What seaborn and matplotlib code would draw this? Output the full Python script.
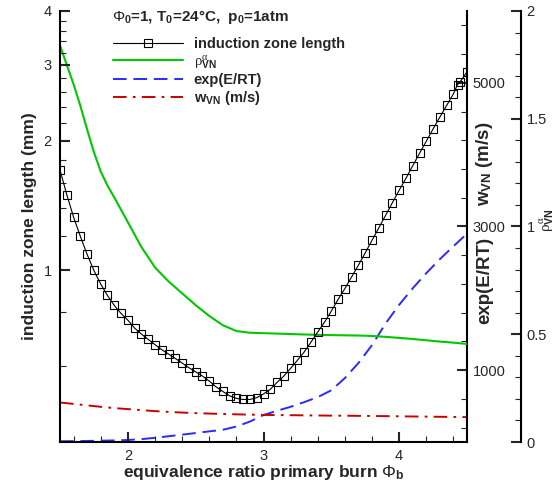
import numpy as np
import pandas as pd
import seaborn as sns
import matplotlib
matplotlib.use("Agg")
import matplotlib.pyplot as plt
from matplotlib.ticker import FixedLocator, FixedFormatter, NullFormatter

# ---------------- data ----------------
phi_ind = [1.50, 1.55, 1.60, 1.65, 1.70, 1.75, 1.80, 1.85, 1.90, 1.95,
           2.00, 2.05, 2.10, 2.15, 2.20, 2.25, 2.30, 2.35, 2.40, 2.45,
           2.50, 2.55, 2.60, 2.65, 2.70, 2.75, 2.80, 2.85, 2.90, 2.95,
           3.00, 3.05, 3.10, 3.15, 3.20, 3.25, 3.30, 3.35, 3.40, 3.45,
           3.50, 3.55, 3.60, 3.65, 3.70, 3.75, 3.80, 3.85, 3.90, 3.95,
           4.00, 4.05, 4.10, 4.15, 4.20, 4.25, 4.30, 4.35, 4.40, 4.43,
           4.45, 4.50]
induction_len = [1.71, 1.50, 1.33, 1.20, 1.09, 1.00, 0.93, 0.875, 0.83, 0.795,
                 0.767, 0.735, 0.712, 0.692, 0.673, 0.655, 0.640, 0.625, 0.610, 0.595,
                 0.582, 0.569, 0.554, 0.537, 0.524, 0.512, 0.505, 0.502, 0.502, 0.507,
                 0.517, 0.530, 0.550, 0.569, 0.593, 0.619, 0.647, 0.682, 0.720, 0.759,
                 0.805, 0.857, 0.908, 0.967, 1.029, 1.099, 1.175, 1.256, 1.343, 1.436,
                 1.535, 1.637, 1.750, 1.870, 1.995, 2.130, 2.270, 2.415, 2.570, 2.700,
                 2.740, 2.890]

phi = [1.5, 1.55, 1.6, 1.65, 1.7, 1.75, 1.8, 1.85, 1.9, 2.0, 2.1, 2.2, 2.3, 2.4,
       2.5, 2.6, 2.7, 2.8, 2.9, 3.0, 3.1, 3.2, 3.3, 3.4, 3.5, 3.6, 3.7, 3.8, 3.9,
       4.0, 4.1, 4.2, 4.3, 4.4, 4.5]
rho_alpha = [1.84, 1.75, 1.66, 1.56, 1.45, 1.345, 1.255, 1.19, 1.135, 1.02, 0.905,
             0.81, 0.745, 0.69, 0.635, 0.585, 0.542, 0.515, 0.507, 0.505, 0.503,
             0.501, 0.499, 0.497, 0.496, 0.495, 0.494, 0.492, 0.488, 0.483, 0.478,
             0.472, 0.466, 0.461, 0.455]
exp_ERT = [10, 11, 12, 13, 15, 16, 18, 20, 22, 28, 40, 58, 80, 102, 125, 148,
           170, 215, 285, 375, 435, 490, 555, 625, 720, 890, 1100, 1350, 1650,
           1910, 2140, 2350, 2545, 2725, 2900]
w_vn = [550, 540, 530, 520, 510, 500, 490, 481, 472, 458, 444, 430, 419, 410, 402,
        396, 390, 385, 381, 377, 375, 373, 371, 369, 367, 366, 364, 362, 360, 358,
        355, 353, 351, 349, 346]

left_major = [1, 2, 3, 4]
left_minor = [0.6, 0.8, 1.2, 1.4, 1.6, 1.8, 2.2, 2.4, 2.6, 2.8, 3.2, 3.4, 3.6, 3.8]
w_major = [1000, 3000, 5000]
w_minor = [200, 600, 1400, 1800, 2200, 2600, 3400, 3800, 4200, 4600, 5400, 5800]
rho_major = [0, 0.5, 1, 1.5, 2]
rho_major_labels = ["0", "0.5", "1", "1.5", "2"]
x_major = [2, 3, 4]

df_ind = pd.DataFrame({"phi": phi_ind, "L": induction_len})
df = pd.DataFrame({"phi": phi, "rho": rho_alpha, "exp": exp_ERT, "w": w_vn})

# ---------------- style ----------------
sns.set_style("ticks")
plt.rcParams["font.family"] = ["Liberation Sans", "DejaVu Sans"]
plt.rcParams["mathtext.fontset"] = "custom"
plt.rcParams["mathtext.rm"] = "Liberation Sans"
plt.rcParams["mathtext.bf"] = "Liberation Sans:bold"
plt.rcParams["mathtext.it"] = "Liberation Serif"
plt.rcParams["mathtext.sf"] = "Liberation Sans"

fig = plt.figure(figsize=(5.59, 4.82), dpi=100)
ax = fig.add_axes([60 / 559, 40 / 482, 407 / 559, 431 / 482])
ax2 = ax.twinx()
ax3 = ax.twinx()

GREEN = "#00c800"
BLUE = "#2a2aff"
RED = "#c80000"

sns.lineplot(data=df, x="phi", y="rho", ax=ax3, color=GREEN, linewidth=1.5,
             estimator=None, sort=False)
sns.lineplot(data=df, x="phi", y="exp", ax=ax2, color=BLUE, linewidth=1.4,
             linestyle=(0, (7, 3.5)), estimator=None, sort=False)
sns.lineplot(data=df, x="phi", y="w", ax=ax2, color=RED, linewidth=1.4,
             linestyle=(0, (7, 3.2, 1.4, 3.2)), estimator=None, sort=False)
sns.lineplot(data=df_ind, x="phi", y="L", ax=ax, color="black", linewidth=0.8,
             marker="s", markersize=6.3, markerfacecolor="none",
             markeredgecolor="black", markeredgewidth=0.8,
             estimator=None, sort=False)

h_ind = ax.lines[-1]
h_rho = ax3.lines[-1]
h_exp = ax2.lines[0]
h_w = ax2.lines[1]

ax.set_zorder(3)
ax.patch.set_visible(False)

# ---------------- axes ----------------
ax.set_yscale("log")
ax.set_xlim(1.5, 4.5)
ax.set_ylim(0.4, 4)
ax2.set_ylim(0, 6000)
ax3.set_ylim(0, 2)

ax.yaxis.set_major_locator(FixedLocator(left_major))
ax.yaxis.set_major_formatter(FixedFormatter([str(v) for v in left_major]))
ax.yaxis.set_minor_locator(FixedLocator(left_minor))
ax.yaxis.set_minor_formatter(NullFormatter())
ax.xaxis.set_major_locator(FixedLocator(x_major))
ax.xaxis.set_major_formatter(FixedFormatter([str(v) for v in x_major]))
ax.xaxis.set_minor_locator(FixedLocator(list(np.arange(1.6, 4.5, 0.2))))

ax2.yaxis.set_major_locator(FixedLocator(w_major))
ax2.yaxis.set_major_formatter(FixedFormatter([str(v) for v in w_major]))
ax2.yaxis.set_minor_locator(FixedLocator(w_minor))

ax3.yaxis.set_major_locator(FixedLocator(rho_major))
ax3.yaxis.set_major_formatter(FixedFormatter(rho_major_labels))
ax3.yaxis.set_minor_locator(FixedLocator(list(np.arange(0.1, 2.0, 0.1))))
ax3.spines["right"].set_position(("axes", 461 / 407))

for a in (ax, ax2, ax3):
    for s in a.spines.values():
        s.set_linewidth(1.5)
        s.set_color("black")
    a.spines["top"].set_visible(False)
    a.set_xlabel("")
    a.set_ylabel("")
ax.spines["right"].set_visible(False)
for a in (ax2, ax3):
    a.spines["left"].set_visible(False)
    a.spines["bottom"].set_visible(False)

ax.tick_params(axis="both", which="major", direction="in", length=7, width=1.5,
               labelsize=10.5, pad=5, top=False, right=False)
ax.tick_params(axis="both", which="minor", direction="in", length=4, width=0.8,
               top=False, right=False)
ax.tick_params(axis="y", which="major", pad=6)
for a in (ax2, ax3):
    a.tick_params(axis="y", which="major", direction="in", length=7, width=1.5,
                  labelsize=10.5, pad=4)
    a.tick_params(axis="y", which="minor", direction="in", length=4, width=0.8)

# labels
ax.set_xlabel(r"equivalence ratio primary burn $\mathit{\Phi}_\mathbf{b}$",
              fontsize=12.5, fontweight="bold", labelpad=0)
ax.set_ylabel("induction zone length (mm)", fontsize=12.5, fontweight="bold")
ax.yaxis.set_label_coords(-0.057, 0.5)

ax2.text(1.043, 0.375, "exp(E/RT)", transform=ax.transAxes, rotation=90,
         fontsize=13.5, fontweight="bold", ha="center", va="center")
ax2.text(1.043, 0.645, r"w$_\mathbf{VN}$ (m/s)", transform=ax.transAxes, rotation=90,
         fontsize=13.5, fontweight="bold", ha="center", va="center")

ax3.set_ylabel(r"$\rho_\mathbf{VN}^{\alpha}$", fontsize=11)
ax3.yaxis.set_label_coords(1.178, 0.515)

ax.text(0.128, 0.986, r"$\mathit{\Phi}_\mathbf{0}$=1, T$_\mathbf{0}$=24°C,  p$_\mathbf{0}$=1atm",
        transform=ax.transAxes, fontsize=11, fontweight="bold", va="center", ha="left")

leg = ax.legend([h_ind, h_rho, h_exp, h_w],
                ["induction zone length", r"$\rho_\mathbf{VN}^{\alpha}$", "exp(E/RT)",
                 r"w$_\mathbf{VN}$ (m/s)"],
                loc="upper left", bbox_to_anchor=(0.13, 0.94), frameon=False,
                prop={"weight": "bold", "size": 10.5}, handlelength=4.8,
                handletextpad=0.75, labelspacing=0.15, borderaxespad=0, borderpad=0)

fig.savefig("out.png", dpi=100)
